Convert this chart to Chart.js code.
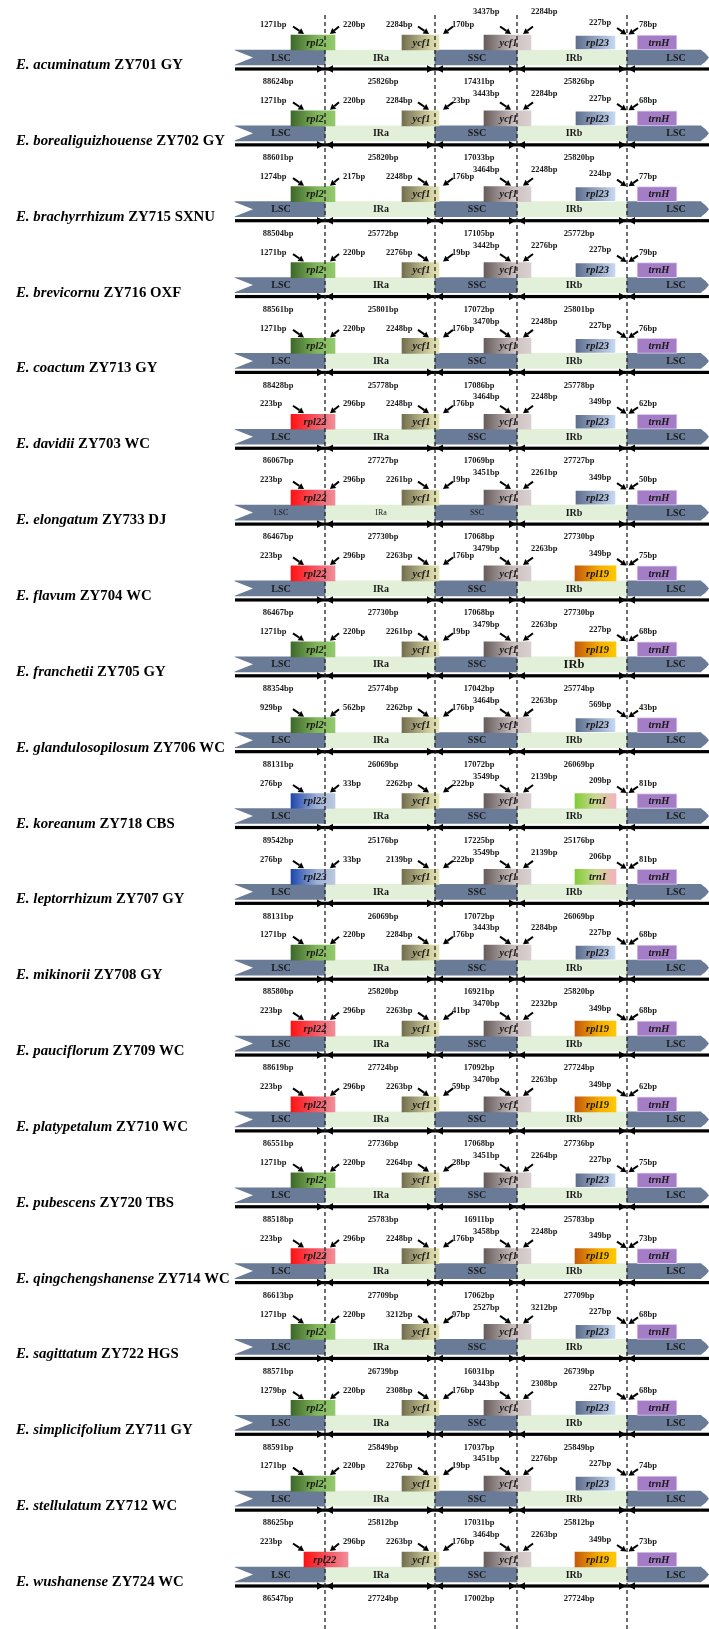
<!DOCTYPE html>
<html>
<head>
<meta charset="utf-8">
<title>IR boundaries</title>
<script src="https://cdn.jsdelivr.net/npm/chart.js@4.4.1/dist/chart.umd.min.js"></script>
<style>
  html, body { margin: 0; padding: 0; background: #fff; }
  canvas { display: block; }
</style>
</head>
<body>
<canvas id="irChart" width="709" height="1629"></canvas>
<script>
// one entry per plastome row
const species = ['E. acuminatum', 'E. borealiguizhouense', 'E. brachyrrhizum', 'E. brevicornu', 'E. coactum',
    'E. davidii', 'E. elongatum', 'E. flavum', 'E. franchetii', 'E. glandulosopilosum', 'E. koreanum',
    'E. leptorrhizum', 'E. mikinorii', 'E. pauciflorum', 'E. platypetalum', 'E. pubescens',
    'E. qingchengshanense', 'E. sagittatum', 'E. simplicifolium', 'E. stellulatum', 'E. wushanense'];
const codes = ['ZY701 GY', 'ZY702 GY', 'ZY715 SXNU', 'ZY716 OXF', 'ZY713 GY', 'ZY703 WC', 'ZY733 DJ', 'ZY704 WC',
    'ZY705 GY', 'ZY706 WC', 'ZY718 CBS', 'ZY707 GY', 'ZY708 GY', 'ZY709 WC', 'ZY710 WC', 'ZY720 TBS',
    'ZY714 WC', 'ZY722 HGS', 'ZY711 GY', 'ZY712 WC', 'ZY724 WC'];

// region lengths (bp)
const lscLen = [88624, 88601, 88504, 88561, 88428, 86067, 86467, 86467, 88354, 88131, 89542, 88131, 88580, 88619, 86551, 88518, 86613, 88571, 88591, 88625, 86547];
const iraLen = [25826, 25820, 25772, 25801, 25778, 27727, 27730, 27730, 25774, 26069, 25176, 26069, 25820, 27724, 27736, 25783, 27709, 26739, 25849, 25812, 27724];
const sscLen = [17431, 17033, 17105, 17072, 17086, 17069, 17068, 17068, 17042, 17072, 17225, 17072, 16921, 17092, 17068, 16911, 17062, 16031, 17037, 17031, 17002];
const irbLen = [25826, 25820, 25772, 25801, 25778, 27727, 27730, 27730, 25774, 26069, 25176, 26069, 25820, 27724, 27736, 25783, 27709, 26739, 25849, 25812, 27724];

// LSC/IRa junction
const lscIraGene = ['rpl2', 'rpl2', 'rpl2', 'rpl2', 'rpl2', 'rpl22', 'rpl22', 'rpl22', 'rpl2', 'rpl2', 'rpl23', 'rpl23', 'rpl2', 'rpl22', 'rpl22', 'rpl2', 'rpl22', 'rpl2', 'rpl2', 'rpl2', 'rpl22'];
const lscIraLeft = [1271, 1271, 1274, 1271, 1271, 223, 223, 223, 1271, 929, 276, 276, 1271, 223, 223, 1271, 223, 1271, 1279, 1271, 223];
const lscIraRight = [220, 220, 217, 220, 220, 296, 296, 296, 220, 562, 33, 33, 220, 296, 296, 220, 296, 220, 220, 220, 296];

// IRa/SSC junction (ycf1)
const iraSscLeft = [2284, 2284, 2248, 2276, 2248, 2248, 2261, 2263, 2261, 2262, 2262, 2139, 2284, 2263, 2263, 2264, 2248, 3212, 2308, 2276, 2263];
const iraSscRight = [170, 23, 176, 19, 176, 176, 19, 176, 19, 176, 222, 222, 176, 41, 59, 28, 176, 97, 176, 19, 176];

// SSC/IRb junction (ycf1)
const sscIrbLeft = [3437, 3443, 3464, 3442, 3470, 3464, 3451, 3479, 3479, 3464, 3549, 3549, 3443, 3470, 3470, 3451, 3458, 2527, 3443, 3451, 3464];
const sscIrbRight = [2284, 2284, 2248, 2276, 2248, 2248, 2261, 2263, 2263, 2263, 2139, 2139, 2284, 2232, 2263, 2264, 2248, 3212, 2308, 2276, 2263];

// IRb/LSC junction (gene in IRb, trnH in LSC)
const irbGene = ['rpl23', 'rpl23', 'rpl23', 'rpl23', 'rpl23', 'rpl23', 'rpl23', 'rpl19', 'rpl19', 'rpl23', 'trnI', 'trnI', 'rpl23', 'rpl19', 'rpl19', 'rpl23', 'rpl19', 'rpl23', 'rpl23', 'rpl23', 'rpl19'];
const irbLscLeft = [227, 227, 224, 227, 227, 349, 349, 349, 227, 569, 209, 206, 227, 349, 349, 227, 349, 227, 227, 227, 349];
const irbLscRight = [78, 68, 77, 79, 76, 62, 50, 75, 68, 43, 81, 81, 68, 68, 62, 75, 73, 68, 68, 74, 73];

// schematic layout, axis units equal canvas px
const ROW0 = 50, PITCH = 75.85, TRACK_H = 15;
const TRACK_L = 235, TRACK_END = 701, TIP_X = 709;
const BOUND = [325, 435, 517, 627];
const BOX = { lscIra: [291, 335], iraSsc: [402, 439], sscIrb: [484, 531], irbLsc: [575, 616], trnH: [637, 677] };
const BOX_SHIFT = { 20: 13 };
const SC_COLOR = '#6a7b97', IR_COLOR = '#e2efd9';
const SERIF = '"Liberation Serif", "Times New Roman", serif';

const FILL = {
    'lscIra:rpl2': [[0, '#3d6829'], [0.6, '#83b75c'], [1, '#94c86c']],
    'lscIra:rpl22': [[0, '#ff1212'], [0.5, '#f4505b'], [1, '#f08e99']],
    'lscIra:rpl23': [[0, '#1d47ad'], [0.6, '#9fb1d6'], [1, '#bcc8de']],
    'iraSsc:ycf1': [[0, '#726e4e'], [0.75, '#d2d0a0'], [1, '#e6e4b6']],
    'sscIrb:ycf1': [[0, '#675c5c'], [0.65, '#cdc1c1'], [1, '#dbd0d0']],
    'irbLsc:rpl23': [[0, '#5b6b8b'], [1, '#cadbf6']],
    'irbLsc:rpl19': [[0, '#c45a0c'], [0.6, '#f6ae00'], [1, '#ffc800']],
    'irbLsc:trnI': [[0, '#82cb38'], [0.5, '#c9d98f'], [1, '#f6b1be']],
    'trnH': [[0, '#a47dc6'], [1, '#a47dc6']]
};

const rowTop = i => ROW0 + i * PITCH;

var singleCopy = [];
var invRepeat = [];
var geneBoxes = [];
species.forEach((s, i) => {
    const mid = rowTop(i) + TRACK_H / 2;
    singleCopy.push({ x: [TRACK_L, BOUND[0]], y: mid });
    singleCopy.push({ x: [BOUND[1], BOUND[2]], y: mid });
    singleCopy.push({ x: [BOUND[3], TRACK_END], y: mid });
    invRepeat.push({ x: [BOUND[0], BOUND[1]], y: mid });
    invRepeat.push({ x: [BOUND[2], BOUND[3]], y: mid });

    const up = rowTop(i) - TRACK_H / 2;
    const sh = BOX_SHIFT[i] || 0;
    geneBoxes.push({ x: [BOX.lscIra[0] + sh, BOX.lscIra[1] + sh], y: up, kind: 'lscIra:' + lscIraGene[i], name: lscIraGene[i] });
    geneBoxes.push({ x: BOX.iraSsc, y: up, kind: 'iraSsc:ycf1', name: 'ycf1' });
    geneBoxes.push({ x: BOX.sscIrb, y: up, kind: 'sscIrb:ycf1', name: 'ycf1' });
    geneBoxes.push({ x: BOX.irbLsc, y: up, kind: 'irbLsc:' + irbGene[i], name: irbGene[i] });
    geneBoxes.push({ x: BOX.trnH, y: up, kind: 'trnH', name: 'trnH' });
});

function geneFill(c) {
    const stops = (c.raw && FILL[c.raw.kind]) || [[0, '#999'], [1, '#ccc']];
    const sx = c.chart.scales.x;
    if (c.type !== 'data' || !sx) return stops[0][1];
    const x0 = sx.getPixelForValue(c.raw.x[0]);
    const x1 = sx.getPixelForValue(c.raw.x[1]);
    // scales are not laid out yet on the first (reset) pass
    if (!isFinite(x0) || !isFinite(x1)) return stops[0][1];
    const g = c.chart.ctx.createLinearGradient(x0, 0, x1, 0);
    stops.forEach(st => g.addColorStop(st[0], st[1]));
    return g;
}

function pointer(ctx, x1, y1, x2, y2) {
    const a = Math.atan2(y2 - y1, x2 - x1);
    const hl = 5.5, hw = 3.2;
    const bx = x2 - hl * Math.cos(a), by = y2 - hl * Math.sin(a);
    ctx.beginPath();
    ctx.moveTo(x1, y1);
    ctx.lineTo(bx, by);
    ctx.stroke();
    ctx.beginPath();
    ctx.moveTo(x2, y2);
    ctx.lineTo(bx - hw * Math.sin(a), by + hw * Math.cos(a));
    ctx.lineTo(bx + hw * Math.sin(a), by - hw * Math.cos(a));
    ctx.closePath();
    ctx.fill();
}

function head(ctx, tipX, yy, dir) {
    // dir = 1 points right, -1 points left
    ctx.beginPath();
    ctx.moveTo(tipX, yy);
    ctx.lineTo(tipX - dir * 7, yy - 3.8);
    ctx.lineTo(tipX - dir * 7, yy + 3.8);
    ctx.closePath();
    ctx.fill();
}

const irMarks = {
    id: 'irMarks',
    afterDatasetsDraw(chart) {
        const ctx = chart.ctx;
        const X = v => chart.scales.x.getPixelForValue(v);
        const Y = v => chart.scales.y.getPixelForValue(v);
        ctx.save();

        species.forEach((sp, i) => {
            const t = rowTop(i);

            // tail notch on the left LSC, point on the right LSC
            ctx.fillStyle = '#fff';
            ctx.beginPath();
            ctx.moveTo(X(TRACK_L) - 1, Y(t));
            ctx.lineTo(X(TRACK_L + 18), Y(t + TRACK_H / 2));
            ctx.lineTo(X(TRACK_L) - 1, Y(t + TRACK_H));
            ctx.closePath();
            ctx.fill();
            ctx.fillStyle = SC_COLOR;
            ctx.beginPath();
            ctx.moveTo(X(TRACK_END), Y(t));
            ctx.quadraticCurveTo(X(TIP_X - 3), Y(t + 3), X(TIP_X), Y(t + TRACK_H / 2));
            ctx.quadraticCurveTo(X(TIP_X - 3), Y(t + TRACK_H - 3), X(TRACK_END), Y(t + TRACK_H));
            ctx.closePath();
            ctx.fill();

            // region names
            const regions = [['LSC', 281], ['IRa', 381], ['SSC', 477], ['IRb', 574], ['LSC', 676]];
            ctx.fillStyle = '#1a1a1a';
            ctx.textAlign = 'center';
            ctx.textBaseline = 'middle';
            regions.forEach((r, k) => {
                let font = 'bold 10px ' + SERIF;
                if (i === 6 && k < 3) font = '8px ' + SERIF;
                if (i === 8 && k === 3) font = 'bold 12.5px ' + SERIF;
                ctx.font = font;
                ctx.fillText(r[0], X(r[1]), Y(t + TRACK_H / 2 + 0.5));
            });

            // gene names
            ctx.font = 'italic bold 10.5px ' + SERIF;
            const sh = BOX_SHIFT[i] || 0;
            ctx.fillText(lscIraGene[i], X((BOX.lscIra[0] + BOX.lscIra[1]) / 2 + 2 + sh * 0.75), Y(t - 7));
            ctx.fillText('ycf1', X((BOX.iraSsc[0] + BOX.iraSsc[1]) / 2 + 1), Y(t - 7));
            ctx.fillText('ycf1', X((BOX.sscIrb[0] + BOX.sscIrb[1]) / 2 + 1), Y(t - 7));
            ctx.fillText(irbGene[i], X((BOX.irbLsc[0] + BOX.irbLsc[1]) / 2 + 2), Y(t - 7));
            ctx.fillText('trnH', X((BOX.trnH[0] + BOX.trnH[1]) / 2 + 2), Y(t - 7));

            // length line with arrow heads at every junction
            const ly = Y(t + 19);
            ctx.fillStyle = '#000';
            ctx.fillRect(X(TRACK_L), ly - 1.6, X(TIP_X) - X(TRACK_L), 3.2);
            BOUND.forEach(b => {
                head(ctx, X(b) - 1, ly, 1);
                head(ctx, X(b) + 1, ly, -1);
            });

            // region lengths
            ctx.fillStyle = '#1a1a1a';
            ctx.font = 'bold 8.5px ' + SERIF;
            ctx.textAlign = 'center';
            [[lscLen[i], 278], [iraLen[i], 383], [sscLen[i], 479], [irbLen[i], 579]].forEach(p => {
                ctx.fillText(p[0] + 'bp', X(p[1]), Y(t + 32));
            });

            // distances to each junction
            ctx.textAlign = 'left';
            const hi = i === 0 ? -38 : -32;
            const labels = [
                [lscIraLeft[i], 260, -25], [lscIraRight[i], 343, -25],
                [iraSscLeft[i], 386, -25], [iraSscRight[i], 452, -25],
                [sscIrbLeft[i], 473, hi], [sscIrbRight[i], 531, hi],
                [irbLscLeft[i], 589, -27.5], [irbLscRight[i], 639, -25]
            ];
            labels.forEach(l => ctx.fillText(l[0] + 'bp', X(l[1]), Y(t + l[2])));

            // pointers from labels to the junctions
            ctx.strokeStyle = '#000';
            ctx.fillStyle = '#000';
            ctx.lineWidth = 2;
            const p = [
                [BOUND[0], -32, -23.5, -21, -16], [BOUND[0], 14, -23.5, 5, -16],
                [BOUND[1], -17, -23.5, -6, -16], [BOUND[1], 18, -23.5, 8, -16],
                [BOUND[2], -17, -23.5, -6, -16], [BOUND[2], 16, -23.5, 6, -16],
                [BOUND[3], -10, -22, -0.5, -15.5], [BOUND[3], 11, -22, 1.5, -15.5]
            ];
            p.forEach(a => pointer(ctx, X(a[0] + a[1]), Y(t + a[2]), X(a[0] + a[3]), Y(t + a[4])));

            // species name, italic binomial then voucher code
            ctx.fillStyle = '#000';
            ctx.textAlign = 'left';
            ctx.textBaseline = 'alphabetic';
            ctx.font = 'italic bold 14.8px ' + SERIF;
            ctx.fillText(sp, 16, Y(t + 19));
            const w = ctx.measureText(sp + ' ').width;
            ctx.font = 'bold 14.8px ' + SERIF;
            ctx.fillText(codes[i], 16 + w, Y(t + 19));
        });

        // junction lines
        ctx.strokeStyle = '#222';
        ctx.lineWidth = 1.3;
        ctx.setLineDash([4, 3]);
        BOUND.forEach(b => {
            ctx.beginPath();
            ctx.moveTo(X(b), Y(15));
            ctx.lineTo(X(b), Y(1629));
            ctx.stroke();
        });
        ctx.restore();
    }
};

new Chart(document.getElementById('irChart'), {
    type: 'bar',
    data: {
        datasets: [
            {
                label: 'genes', data: geneBoxes, grouped: false, barThickness: TRACK_H,
                backgroundColor: geneFill,
                borderColor: c => (c.raw && c.raw.kind === 'trnH') ? '#dccbee' : 'rgba(255,255,255,0.6)',
                borderWidth: c => (c.raw && (c.raw.kind === 'trnH' || c.raw.kind === 'irbLsc:rpl23')) ? 1 : 0,
                borderSkipped: false
            },
            { label: 'single copy', data: singleCopy, grouped: false, barThickness: TRACK_H, backgroundColor: SC_COLOR, borderWidth: 0 },
            { label: 'inverted repeat', data: invRepeat, grouped: false, barThickness: TRACK_H, backgroundColor: IR_COLOR, borderWidth: 0 }
        ]
    },
    options: {
        indexAxis: 'y',
        responsive: false,
        devicePixelRatio: 1,
        animation: false,
        events: [],
        layout: { padding: 0 },
        scales: {
            x: { type: 'linear', min: 0, max: 709, offset: false, display: false },
            y: { type: 'linear', min: 0, max: 1629, reverse: true, offset: false, display: false }
        },
        plugins: { legend: { display: false }, tooltip: { enabled: false } }
    },
    plugins: [irMarks]
});
</script>
</body>
</html>
